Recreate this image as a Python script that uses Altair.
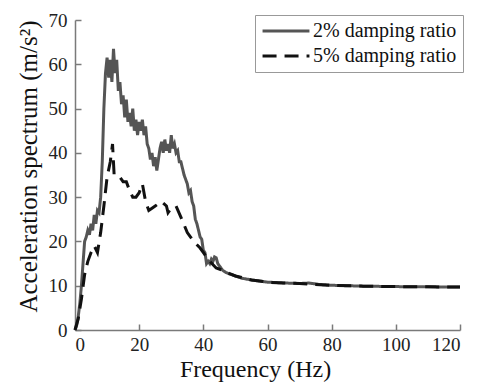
import altair as alt
import pandas as pd

# 2% damping ratio
f2 = [0, 0.5, 1, 1.5, 2, 2.5, 3, 3.5, 4, 4.5, 5, 5.5, 6, 6.5, 7, 7.5, 8, 8.5, 9, 9.5,
      10, 10.5, 11, 11.5, 12, 12.5, 13, 13.5, 14, 14.5, 15, 15.5, 16, 16.5, 17, 17.5,
      18, 18.5, 19, 19.5, 20, 20.5, 21, 21.5, 22, 22.5, 23, 23.5, 24, 24.5, 25, 25.5,
      26, 26.5, 27, 27.5, 28, 28.5, 29, 29.5, 30, 30.5, 31, 31.5, 32, 32.5, 33, 34,
      35, 35.5, 36, 36.5, 37, 37.5, 38, 38.5, 39, 39.5, 40, 40.5, 41, 41.5, 42, 42.5,
      43, 43.5, 44, 44.5, 45, 46, 47, 48, 50, 52, 55, 58, 60, 63, 66, 70, 73, 76, 80,
      85, 90, 95, 100, 110, 120]
a2 = [0, 1, 3, 6, 10, 15, 20, 21, 22.5, 21.5, 24, 22.5, 26, 24, 27, 26.5, 30, 38, 50, 58,
      61.5, 57, 61, 56, 63.5, 58, 61, 54, 56, 51, 53, 48, 52, 47, 49, 46,
      50, 45, 47.5, 44, 47, 45, 47.5, 44, 46, 42, 41, 38.5, 40, 37, 39, 36,
      38.5, 41, 42.5, 40, 43, 40.5, 42, 40, 44, 41, 42, 40, 40.5, 38, 38, 35,
      33, 31, 31.5, 29, 28, 25, 24, 22.5, 21, 20.5, 18, 17.5, 15, 15.5, 15, 16,
      15.5, 16.5, 16.3, 15, 14.5, 13.5, 13, 12.7, 12.2, 11.7, 11.3, 11, 10.8, 10.7, 10.6, 10.5, 10.6, 10.3, 10.1,
      10, 9.9, 9.85, 9.8, 9.75, 9.7]

# 5% damping ratio
f5 = [0, 1, 2, 3, 4, 5, 6, 7, 8, 9, 10, 11, 11.7, 12.2, 13, 14, 15, 16, 17, 18, 19, 20,
      21, 22, 23, 24, 25, 27, 28.5, 29, 30, 31.5, 33, 35, 37, 39, 41, 42, 44, 46, 48, 50,
      55, 60, 65, 70, 75, 80, 90, 100, 110, 120]
a5 = [0, 2.5, 7, 12.5, 15.5, 17.5, 19, 17.5, 22, 28, 34.5, 38, 42, 35, 35, 34.5, 33.5, 33.5, 31.5, 30, 30, 31,
      33, 29, 27, 27.5, 28, 29, 28, 26.5, 27.5, 28, 25.5, 22, 20, 18.5, 16.5, 15.5, 14, 13.5, 12.8, 12.2,
      11.3, 10.8, 10.6, 10.5, 10.3, 10.1, 9.9, 9.8, 9.75, 9.7]

series = ["2% damping ratio", "5% damping ratio"]

df = pd.concat([
    pd.DataFrame({"f": f2, "a": a2, "s": series[0], "o": range(len(f2))}),
    pd.DataFrame({"f": f5, "a": a5, "s": series[1], "o": range(len(f5))}),
])

FONT = "Liberation Serif"
xscale = alt.Scale(domain=[0, 120], nice=False)
yscale = alt.Scale(domain=[0, 70], nice=False)

lines = alt.Chart(df).mark_line(strokeWidth=3).encode(
    x=alt.X("f:Q", scale=xscale, title="Frequency (Hz)",
            axis=alt.Axis(values=[0, 20, 40, 60, 80, 100, 120], ticks=False, grid=False,
                          domainColor="#7a7a7a", domainWidth=1.5, labelPadding=5,
                          labelFontSize=19, titleFontSize=24, titlePadding=3, titleX=180,
                          labelColor="#222", titleColor="#111")),
    y=alt.Y("a:Q", scale=yscale, title="Acceleration spectrum (m/s²)",
            axis=alt.Axis(values=[0, 10, 20, 30, 40, 50, 60, 70], ticks=False, grid=False,
                          domainColor="#7a7a7a", domainWidth=1.5, labelPadding=8,
                          labelFontSize=19, titleFontSize=25, titlePadding=7, titleY=146,
                          labelColor="#222", titleColor="#111")),
    color=alt.Color("s:N", scale=alt.Scale(domain=series, range=["#555555", "#111111"]),
                    title=None,
                    legend=alt.Legend(orient="none", legendX=180, legendY=-5)),
    strokeDash=alt.StrokeDash("s:N", scale=alt.Scale(domain=series, range=[[1, 0], [14, 8]]),
                              title=None),
    order="o:Q",
)

ticks = alt.Chart(df).mark_line(strokeOpacity=0).encode(
    x=alt.X("f:Q", scale=xscale,
            axis=alt.Axis(orient="top", offset=-310, values=[0, 20, 40, 60, 80, 100, 120],
                          labels=False, domain=False, grid=False, title=None,
                          tickSize=6, tickWidth=1.5, tickColor="#7a7a7a")),
    y=alt.Y("a:Q", scale=yscale,
            axis=alt.Axis(orient="right", offset=-385, values=[0, 10, 20, 30, 40, 50, 60, 70],
                          labels=False, domain=False, grid=False, title=None,
                          tickSize=6, tickWidth=1.5, tickColor="#7a7a7a")),
    order="o:Q",
)

chart = alt.layer(lines, ticks).resolve_axis(x="independent", y="independent").properties(
    width=385, height=310,
    autosize=alt.AutoSizeParams(type="none"),
    padding={"left": 75, "top": 20, "right": 22, "bottom": 55},
    background="white",
).configure(font=FONT).configure_axis(
    labelFont=FONT, titleFont=FONT, titleFontWeight="normal"
).configure_legend(
    labelFont=FONT, labelFontSize=20, labelColor="#111", labelOffset=2,
    symbolType="stroke", symbolSize=2200, symbolStrokeWidth=3,
    clipHeight=20, rowPadding=5, padding=6,
    strokeColor="#999999", fillColor="white", labelLimit=300,
).configure_view(stroke=None)

chart.save("out.html", embed_options={"renderer": "svg", "actions": False})
